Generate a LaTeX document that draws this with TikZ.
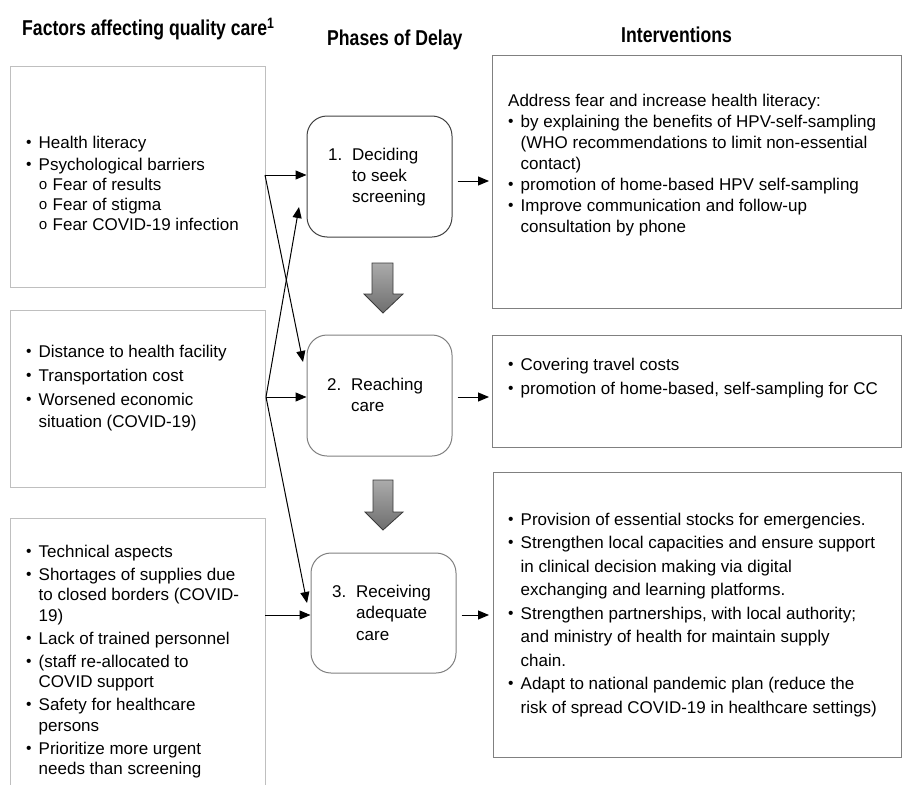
\documentclass[tikz,border=0pt]{standalone}
\usepackage{fontspec}
\setmainfont{Liberation Sans}
\newfontfamily\hdrfont{Liberation Sans}[FakeStretch=0.82]
\newfontfamily\circfont{Liberation Mono}
\usetikzlibrary{arrows.meta}
\definecolor{lboxc}{HTML}{BFBFBF}
\definecolor{rboxc}{HTML}{808080}
\definecolor{mboxa}{HTML}{404040}
\definecolor{mboxb}{HTML}{7F7F7F}
\definecolor{garrtop}{HTML}{ABABAB}
\definecolor{garrbot}{HTML}{6E6E6E}
\definecolor{garrline}{HTML}{3A3A3A}
\newcommand{\bu}{\makebox[12.5pt][l]{\raisebox{0.8pt}{\fontsize{15.5}{15.5}\selectfont\textbullet}}}
\newcommand{\ci}{\makebox[14pt][l]{\raisebox{0.6pt}{\circfont\fontsize{15}{15}\selectfont o}}}
\newcommand{\ind}{\hspace*{12.5pt}}
\newcommand{\nm}[1]{\makebox[24pt][l]{#1}}
\newcommand{\nind}{\hspace*{24pt}}
\tikzset{
  lbox/.style={draw=lboxc, line width=1pt, inner sep=0pt},
  rbox/.style={draw=rboxc, line width=1pt, inner sep=0pt},
  mbox/.style={line width=1pt, rounded corners=20pt, inner sep=0pt, minimum width=145pt},
  txt/.style={inner sep=0pt, align=left, anchor=base west},
  hdr/.style={inner sep=0pt, anchor=base west, font=\hdrfont\bfseries\fontsize{21.5}{24}\selectfont},
  arr/.style={-{Triangle[length=11pt,width=9pt]}, line width=1pt},
  garr/.style={draw=garrline, line width=0.8pt, top color=garrtop, bottom color=garrbot}
}
\begin{document}
\begin{tikzpicture}[x=1pt,y=-1pt]
\useasboundingbox (0,0) rectangle (904,784);
% headers
\node[hdr] (h1) at (22,36) {Factors affecting quality care\textsuperscript{1}};
\node[hdr] (h2) at (327,46) {Phases of Delay};
\node[hdr] (h3) at (621,42) {Interventions};
% left boxes
\node[lbox, minimum width=255pt, minimum height=221pt] (L1) at (137.5,176.5) {};
\node[lbox, minimum width=255pt, minimum height=177pt] (L2) at (137.5,398.5) {};
\node[lbox, minimum width=255pt, minimum height=268pt] (L3) at (137.5,652) {};
% right boxes
\node[rbox, minimum width=409pt, minimum height=252pt] (R1) at (696.5,182) {};
\node[rbox, minimum width=409pt, minimum height=112pt] (R2) at (696.5,391) {};
\node[rbox, minimum width=408pt, minimum height=285pt] (R3) at (697,614.5) {};
% middle boxes
\node[mbox, draw=mboxa, minimum height=121pt] (M1) at (379.5,176.5) {};
\node[mbox, draw=mboxb, minimum height=121pt] (M2) at (379.5,395.5) {};
\node[mbox, draw=mboxb, minimum height=120pt] (M3) at (383.5,613) {};
% texts left (anchored at the baseline of the last line)
\node[txt, font=\fontsize{17}{20}\selectfont] (L1t) at (26,230) {%
\bu Health literacy\\[2pt]
\bu Psychological barriers\\
\ind\ci Fear of results\\
\ind\ci Fear of stigma\\
\ind\ci Fear COVID-19 infection};
\node[txt, font=\fontsize{17}{22}\selectfont] (L2t) at (26,427) {%
\bu Distance to health facility\\[2pt]
\bu Transportation cost\\[2pt]
\bu Worsened economic\\
\ind situation (COVID-19)};
\node[txt, font=\fontsize{17}{20.5}\selectfont] (L3t) at (26,774.5) {%
\bu Technical aspects\\[2.5pt]
\bu Shortages of supplies due\\
\ind to closed borders (COVID-\\
\ind 19)\\[2.5pt]
\bu Lack of trained personnel\\[2.5pt]
\bu (staff re-allocated to\\
\ind COVID support\\[2.5pt]
\bu Safety for healthcare\\
\ind persons\\[2.5pt]
\bu Prioritize more urgent\\
\ind needs than screening};
% texts middle
\node[txt, font=\fontsize{17}{21}\selectfont] (M1t) at (328,202) {%
\nm{1.}Deciding\\ \nind to seek\\ \nind screening};
\node[txt, font=\fontsize{17}{21}\selectfont] (M2t) at (327,411) {%
\nm{2.}Reaching\\ \nind care};
\node[txt, font=\fontsize{17}{21.5}\selectfont] (M3t) at (332,640) {%
\nm{3.}Receiving\\ \nind adequate\\ \nind care};
% texts right
\node[txt, font=\fontsize{17}{21}\selectfont] (R1t) at (508,232) {%
Address fear and increase health literacy:\\
\bu by explaining the benefits of HPV-self-sampling\\
\ind (WHO recommendations to limit non-essential\\
\ind contact)\\
\bu promotion of home-based HPV self-sampling\\
\bu Improve communication and follow-up\\
\ind consultation by phone};
\node[txt, font=\fontsize{17}{22}\selectfont] (R2t) at (508,394) {%
\bu Covering travel costs\\[2pt]
\bu promotion of home-based, self-sampling for CC};
\node[txt, font=\fontsize{17}{23.5}\selectfont] (R3t) at (508,713) {%
\bu Provision of essential stocks for emergencies.\\
\bu Strengthen local capacities and ensure support\\
\ind in clinical decision making via digital\\
\ind exchanging and learning platforms.\\
\bu Strengthen partnerships, with local authority;\\
\ind and ministry of health for maintain supply\\
\ind chain.\\
\bu Adapt to national pandemic plan (reduce the\\
\ind risk of spread COVID-19 in healthcare settings)};
% gray block arrows
\shadedraw[garr] (372,263) -- (393,263) -- (393,294) -- (403,294) -- (383,313) -- (364,294) -- (372,294) -- cycle;
\shadedraw[garr] (373,480) -- (393,480) -- (393,512) -- (403,512) -- (383,530) -- (365,512) -- (373,512) -- cycle;
% connector coordinates
\coordinate (J1) at (265,175);
\coordinate (J2) at (266,397);
\coordinate (J3) at (265,615);
\coordinate (M1in) at (299,207);
\coordinate (M2in) at (303,362);
\coordinate (M3in) at (307,603);
\coordinate (R1in) at (489,181);
\coordinate (R2in) at (489,397);
\coordinate (R3in) at (489,615);
% connectors
\draw[arr] (J1) -- (M1.west |- J1);
\draw[arr] (J1) -- (M2in);
\draw[arr] (J2) -- (M2.west |- J2);
\draw[arr] (J2) -- (M1in);
\draw[arr] (J2) -- (M3in);
\draw[arr] (J3) -- (M3.west |- J3);
\draw[arr] ([xshift=5pt]M1.east |- R1in) -- (R1in);
\draw[arr] ([xshift=5pt]M2.east |- R2in) -- (R2in);
\draw[arr] ([xshift=5pt]M3.east |- R3in) -- (R3in);
\end{tikzpicture}
\end{document}
